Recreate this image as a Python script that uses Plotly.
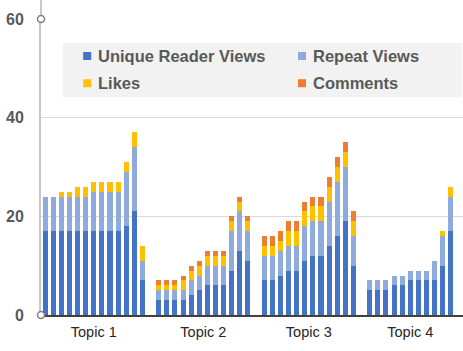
import plotly.graph_objects as go

topics = ["Topic 1", "Topic 2", "Topic 3", "Topic 4"]
series_names = ["Unique Reader Views", "Repeat Views", "Likes", "Comments"]
colors = ["#4472C4", "#8FAADC", "#FFC000", "#ED7D31"]

unique = [
    [17, 17, 17, 17, 17, 17, 17, 17, 17, 17, 18, 21, 7],
    [3, 3, 3, 3, 4, 5, 6, 6, 6, 9, 13, 11],
    [7, 7, 8, 9, 9, 11, 12, 12, 14, 16, 19, 10],
    [5, 5, 5, 6, 6, 7, 7, 7, 7, 10, 17],
]
repeat = [
    [7, 7, 7, 7, 7, 7, 8, 8, 8, 8, 11, 13, 4],
    [2, 2, 2, 2, 3, 3, 4, 4, 4, 8, 8, 6],
    [5, 5, 5, 5, 5, 7, 7, 7, 9, 11, 11, 6],
    [2, 2, 2, 2, 2, 2, 2, 2, 4, 6, 7],
]
likes = [
    [0, 0, 1, 1, 2, 2, 2, 2, 2, 2, 2, 3, 3],
    [1, 1, 1, 2, 2, 2, 2, 2, 2, 2, 2, 2],
    [2, 2, 2, 3, 3, 3, 3, 3, 3, 3, 3, 3],
    [0, 0, 0, 0, 0, 0, 0, 0, 0, 1, 2],
]
comments = [
    [0] * 13,
    [1] * 12,
    [2] * 12,
    [0] * 11,
]
y_ticks = [0, 20, 40, 60]

# slot positions: each topic's bars followed by one empty slot
xs, tick_pos = [], []
pos = 0
for grp in unique:
    idx = list(range(pos, pos + len(grp)))
    xs.extend(idx)
    tick_pos.append(sum(idx) / len(idx))
    pos += len(grp) + 1
n_slots = pos

def flat(lst):
    return [v for g in lst for v in g]

fig = go.Figure()
for name, data, col in zip(series_names, [unique, repeat, likes, comments], colors):
    fig.add_trace(go.Bar(x=xs, y=flat(data), name=name, marker_color=col,
                         marker_line_width=0, showlegend=False))

FONT = "Liberation Sans, Arial, sans-serif"
fig.update_layout(
    width=463, height=351, barmode="stack", bargap=0.38,
    margin=dict(l=41, r=0, t=19, b=36),
    paper_bgcolor="white", plot_bgcolor="white",
    xaxis=dict(range=[-0.5, n_slots - 0.5], tickvals=tick_pos, ticktext=topics,
               showgrid=False, showline=True, linecolor="#404040", linewidth=2,
               ticks="", ticklabelstandoff=3, zeroline=False,
               tickfont=dict(family=FONT, size=14.5, color="#262626")),
    yaxis=dict(range=[0, 60], tickvals=y_ticks, showgrid=True, gridcolor="#d9d9d9",
               gridwidth=1, showline=True, linecolor="#c8c8c8", linewidth=2,
               zeroline=False, ticks="", ticklabelstandoff=12,
               tickfont=dict(family=FONT, size=16, color="#595959", weight="bold")),
)

# value axis line continues to the top edge of the picture
shapes = [dict(type="line", xref="paper", yref="paper", x0=0, x1=0, y0=1,
               y1=1 + 19 / 296, line=dict(color="#c8c8c8", width=2), layer="below")]
# legend box (drawn manually, Excel style)
shapes.append(dict(type="rect", xref="paper", yref="paper", x0=0.052, x1=0.998,
                   y0=0.736, y1=0.919, fillcolor="#f2f2f2", line_width=0, layer="above"))
annotations = []
leg_cols = [0.1095, 0.6185]
leg_rows = [0.875, 0.783]
for i, (name, col) in enumerate(zip(series_names, colors)):
    cx = leg_cols[i % 2]
    cy = leg_rows[i // 2]
    shapes.append(dict(type="rect", xref="paper", yref="paper",
                       x0=cx - 0.0095, x1=cx + 0.0095, y0=cy - 0.0135, y1=cy + 0.0135,
                       fillcolor=col, line_width=0, layer="above"))
    annotations.append(dict(xref="paper", yref="paper", x=cx + 0.021, y=cy,
                            xanchor="left", yanchor="middle", showarrow=False,
                            text=name, font=dict(family=FONT, size=16.5, color="#595959",
                                                 weight="bold")))
# tick circles on the value axis (bottom and top of the axis)
for yp in [0, 1]:
    shapes.append(dict(type="circle", xref="paper", yref="paper", xsizemode="pixel",
                       ysizemode="pixel", xanchor=0, yanchor=yp, x0=-3.5, x1=3.5,
                       y0=-3.5, y1=3.5, fillcolor="white",
                       line=dict(color="#7f7f7f", width=1.5), layer="above"))
fig.update_layout(shapes=shapes, annotations=annotations)

fig.write_html("out.html")
